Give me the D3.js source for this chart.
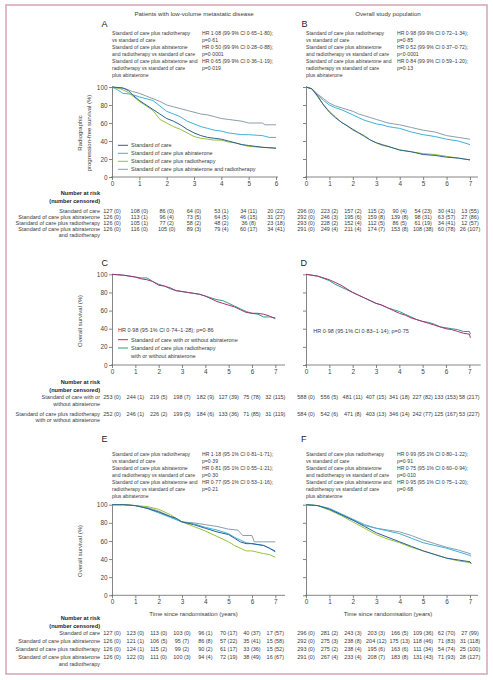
<!DOCTYPE html>
<html>
<head>
<meta charset="utf-8">
<script src="https://cdn.jsdelivr.net/npm/d3@7"></script>
<style>
  body { margin: 0; background: #fff; }
  svg { display: block; }
  text { font-family: "Liberation Sans", Arial, sans-serif; }
</style>
</head>
<body>
<svg id="fig" width="493" height="680"></svg>
<script>
// Kaplan-Meier figure: rPFS (A, B) and OS (C-F), low-volume vs overall population

// ---- data ----
const years6 = [0, 1, 2, 3, 4, 5, 6];
const years7 = [0, 1, 2, 3, 4, 5, 6, 7];
const yTicks = [0, 20, 40, 60, 80, 100];

const armNames = ["Standard of care", "Standard of care plus abiraterone",
  "Standard of care plus radiotherapy", "Standard of care plus abiraterone and radiotherapy"];
const armRowLabels = [["Standard of care"], ["Standard of care plus abiraterone"],
  ["Standard of care plus radiotherapy"], ["Standard of care plus abiraterone", "and radiotherapy"]];
const pairNames = [["Standard of care with or without abiraterone"],
  ["Standard of care plus radiotherapy", "with or without abiraterone"]];
const pairRowLabels = [["Standard of care with or", "without abiraterone"],
  ["Standard of care plus radiotherapy", "with or without abiraterone"]];

const compLabels = [
  ["Standard of care plus radiotherapy", "vs standard of care"],
  ["Standard of care plus abiraterone", "and radiotherapy vs standard of care"],
  ["Standard of care plus abiraterone and", "radiotherapy vs standard of care", "plus abiraterone"]
];
const hrA = ["HR 1·08 (99·9% CI 0·65–1·80);", "HR 0·50 (99·9% CI 0·28–0·88);", "HR 0·65 (99·9% CI 0·36–1·19);"];
const pA = ["p=0·61", "p=0·0001", "p=0·019"];
const hrB = ["HR 0·98 (99·9% CI 0·72–1·34);", "HR 0·52 (99·9% CI 0·37–0·72);", "HR 0·84 (99·9% CI 0·59–1·20);"];
const pB = ["p=0·85", "p<0·0001", "p=0·13"];
const hrE = ["HR 1·18 (95·1% CI 0·81–1·71);", "HR 0·81 (95·1% CI 0·55–1·21);", "HR 0·77 (95·1% CI 0·53–1·16);"];
const pE = ["p=0·39", "p=0·30", "p=0·21"];
const hrF = ["HR 0·99 (95·1% CI 0·80–1·22);", "HR 0·75 (95·1% CI 0·60–0·94);", "HR 0·95 (95·1% CI 0·75–1·20);"];
const pF = ["p=0·91", "p=0·010", "p=0·68"];
const hrC = "HR 0·98 (95·1% CI 0·74–1·28); p=0·86";
const hrD = "HR 0·98 (95·1% CI 0·83–1·14); p=0·75";

// panel A: rPFS, low-volume [year, %]
const aSoc = [[0,100],[0.4,99],[0.6,96],[0.8,90],[1,85],[1.25,80],[1.5,75],[1.75,70],[2,65],[2.25,62],[2.5,58],[2.75,53],[3,49],[3.25,46],[3.5,44],[3.75,43],[4,42],[4.25,40],[4.5,38],[4.75,36],[5,35],[5.5,33],[6,32]];
const aAbi = [[0,100],[0.2,97],[0.4,93],[0.7,92],[1,89],[1.25,87],[1.5,85],[1.75,79],[2,73],[2.25,70],[2.5,67],[2.75,62],[3,59],[3.25,56],[3.5,54],[3.75,52],[4,51],[4.25,49],[4.5,48],[4.75,47],[5,47],[5.5,46],[5.75,44],[6,44]];
const aRt = [[0,100],[0.3,98],[0.6,94],[0.8,89],[1,84],[1.25,79],[1.5,74],[1.6,70],[1.75,64],[2,60],[2.25,56],[2.5,53],[2.75,49],[3,45],[3.25,43],[3.5,42],[3.75,41],[4,41],[4.25,39],[4.5,38],[4.75,36],[5,34],[5.5,33],[6,32]];
const aAbiRt = [[0,100],[0.5,98],[0.75,95],[1,93],[1.25,90],[1.5,87],[1.75,84],[2,80],[2.25,78],[2.5,76],[2.75,74],[3,72],[3.25,70],[3.5,69],[3.75,67],[4,65],[4.25,64],[4.5,63],[4.75,62],[5,60],[5.5,60],[5.6,58],[6,58]];

// panel B: rPFS, overall
const bSoc = [[0,100],[0.25,98],[0.5,90],[0.75,80],[1,72],[1.25,66],[1.5,61],[1.75,57],[2,53],[2.25,49],[2.5,45],[2.75,41],[3,38],[3.25,36],[3.5,34],[3.75,32],[4,30],[4.5,28],[5,25],[5.5,24],[6,22],[6.5,21],[7,19]];
const bAbi = [[0,100],[0.25,98],[0.5,91],[0.75,85],[1,80],[1.25,77],[1.5,75],[1.75,72],[2,69],[2.25,66],[2.5,63],[2.75,61],[3,59],[3.25,58],[3.5,56],[3.75,55],[4,54],[4.5,50],[5,47],[5.5,45],[6,42],[6.5,40],[7,36]];
const bRt = [[0,100],[0.25,98],[0.5,89],[0.75,80],[1,73],[1.25,67],[1.5,61],[1.75,57],[2,52],[2.25,49],[2.5,46],[2.75,41],[3,38],[3.25,35],[3.5,34],[3.75,32],[4,30],[4.5,28],[5,26],[5.5,25],[6,23],[6.5,21],[7,19]];
const bAbiRt = [[0,100],[0.25,98],[0.5,92],[0.75,87],[1,82],[1.25,79],[1.5,77],[1.75,75],[2,73],[2.25,70],[2.5,68],[2.75,66],[3,64],[3.25,62],[3.5,60],[3.75,59],[4,58],[4.5,55],[5,52],[5.5,50],[6,46],[6.5,44],[7,42]];

// panel C: OS, low-volume, pooled
const cSoc = [[0,100],[0.5,99],[1,97],[1.25,95],[1.5,94],[1.75,92],[2,88],[2.25,87],[2.5,85],[2.75,82],[3,81],[3.25,80],[3.5,79],[3.75,78],[4,76],[4.25,73],[4.5,70],[4.75,68],[5,66],[5.25,64],[5.5,61],[5.75,58],[6,57],[6.25,57],[6.5,56],[6.75,54],[7,51]];
const cRt = [[0,100],[0.5,99],[1,97],[1.25,96],[1.5,96],[1.75,92],[2,89],[2.25,87],[2.5,84],[2.75,82],[3,81],[3.25,80],[3.5,79],[3.75,78],[4,76],[4.25,74],[4.5,72],[4.75,71],[5,68],[5.25,65],[5.5,62],[5.75,59],[6,57],[6.25,56],[6.5,53],[6.75,53],[7,52]];

// panel D: OS, overall, pooled
const dSoc = [[0,100],[0.5,98],[1,94],[1.25,91],[1.5,88],[1.75,84],[2,80],[2.25,77],[2.5,74],[2.75,71],[3,68],[3.25,66],[3.5,63],[3.75,60],[4,57],[4.25,55],[4.5,52],[4.75,50],[5,48],[5.25,46],[5.5,44],[5.75,42],[6,40],[6.25,39],[6.5,37],[6.75,35],[7,34],[7.05,30]];
const dRt = [[0,100],[0.5,98],[1,93],[1.25,89],[1.5,86],[1.75,83],[2,80],[2.25,77],[2.5,74],[2.75,71],[3,68],[3.25,66],[3.5,63],[3.75,61],[4,59],[4.25,56],[4.5,53],[4.75,50],[5,48],[5.25,47],[5.5,45],[5.75,42],[6,41],[6.25,40],[6.5,39],[6.75,37],[7,37],[7.05,34]];

// panel E: OS, low-volume, four arms
const eSoc = [[0,100],[0.5,100],[1,99],[1.5,96],[2,92],[2.5,87],[2.75,85],[3,81],[3.5,78],[4,74],[4.5,70],[5,67],[5.25,63],[5.5,59],[5.75,57],[6,57],[6.5,55],[6.75,52],[7,48]];
const eAbi = [[0,100],[0.5,100],[1,99],[1.5,96],[2,91],[2.5,86],[3,81],[3.5,79],[4,75],[4.5,72],[5,68],[5.25,64],[5.5,61],[5.75,58],[6,57],[6.5,55],[6.75,52],[7,49]];
const eRt = [[0,100],[0.5,100],[1,99],[1.5,98],[2,95],[2.5,89],[3,81],[3.5,76],[4,71],[4.5,65],[5,59],[5.25,55],[5.5,52],[5.75,49],[6,49],[6.5,46],[6.75,45],[7,42]];
const eAbiRt = [[0,100],[0.5,100],[1,99],[1.5,97],[2,93],[2.5,87],[3,81],[3.5,80],[4,78],[4.5,76],[5,73],[5.4,72],[5.6,66],[6,66],[6.1,59],[6.5,59],[7,59]];

// panel F: OS, overall, four arms
const fSoc = [[0,100],[0.5,99],[1,95],[1.5,89],[2,83],[2.5,76],[3,69],[3.5,64],[4,59],[4.5,54],[5,49],[5.5,45],[6,41],[6.5,39],[7,37],[7.05,35]];
const fAbi = [[0,100],[0.5,99],[1,96],[1.5,90],[2,84],[2.5,78],[3,74],[3.5,71],[4,68],[4.5,63],[5,58],[5.5,55],[6,52],[6.5,48],[7,44],[7.05,43]];
const fRt = [[0,100],[0.5,99],[1,94],[1.5,88],[2,81],[2.5,74],[3,67],[3.5,62],[4,58],[4.5,53],[5,49],[5.5,45],[6,41],[6.5,38],[7,36],[7.05,35]];
const fAbiRt = [[0,100],[0.5,99],[1,95],[1.5,89],[2,83],[2.5,77],[3,74],[3.5,72],[4,70],[4.5,66],[5,61],[5.5,57],[6,53],[6.5,50],[7,46],[7.05,45]];

// numbers at risk / censored
const riskA = [[127,108,86,64,53,34,20],[126,113,96,73,64,46,31],[126,105,77,58,48,36,23],[126,116,105,89,79,60,34]];
const censA = [[0,0,0,0,1,11,22],[0,1,4,5,5,15,27],[0,1,2,2,2,8,18],[0,0,0,3,4,17,41]];
const riskB = [[296,223,157,115,90,54,30,13],[292,246,195,159,139,98,63,27],[293,228,152,112,86,61,34,12],[291,249,211,174,153,108,60,26]];
const censB = [[0,2,2,2,4,23,41,55],[0,3,6,8,8,31,57,86],[0,2,4,5,5,19,41,57],[0,4,4,7,8,38,78,107]];
const riskC = [[253,244,219,198,182,127,75,32],[252,246,226,199,184,133,71,31]];
const censC = [[0,1,5,7,9,39,78,115],[0,1,2,5,6,36,85,119]];
const riskD = [[588,556,481,407,341,227,133,58],[584,542,471,403,346,242,125,53]];
const censD = [[0,5,11,15,18,82,153,217],[0,6,8,13,14,77,167,227]];
const riskE = [[127,123,113,103,96,70,40,17],[126,121,106,95,86,57,35,15],[126,124,115,99,90,61,33,15],[126,122,111,100,94,72,38,16]];
const censE = [[0,0,0,0,1,17,37,57],[0,1,5,7,8,22,41,58],[0,1,2,2,2,17,36,52],[0,0,0,3,4,19,49,67]];
const riskF = [[296,281,243,203,166,109,62,27],[292,275,238,204,175,118,71,31],[293,275,238,195,163,111,54,25],[291,267,233,208,183,131,71,28]];
const censF = [[0,2,3,3,5,36,70,99],[0,3,8,12,13,46,83,118],[0,2,4,6,6,34,74,100],[0,4,4,7,8,43,93,127]];

// ---- styling ----
const armColors = ["#2d5f97", "#3fb0dc", "#97c23d", "#8d9ea8"];
const pairColors = ["#a8307f", "#2e9c7c"];
const ink = "#3a3a3a";

const svg = d3.select("#fig");

svg.append("rect")
  .attr("x", 6).attr("y", 5).attr("width", 481).attr("height", 669)
  .attr("fill", "none").attr("stroke", "#d9a9bb").attr("stroke-width", 1.6);

function txt(x, y, s, size, opts = {}) {
  return svg.append("text")
    .attr("x", x).attr("y", y + size * 0.35)
    .attr("text-anchor", opts.anchor || "start")
    .attr("font-size", size)
    .attr("font-weight", opts.bold ? "bold" : "normal")
    .attr("fill", opts.fill || ink)
    .text(s);
}

// column titles and panel letters
txt(194, 14, "Patients with low-volume metastatic disease", 6.1, { anchor: "middle" });
txt(388, 14, "Overall study population", 6.1, { anchor: "middle" });
[["A", 101.5, 24], ["B", 301.5, 24], ["C", 101.5, 262.7], ["D", 300.5, 262.7], ["E", 101.5, 439], ["F", 301, 439]]
  .forEach(([l, x, y]) => txt(x, y, l, 9, { fill: "#222" }));

function drawPanel(p) {
  const x = d3.scaleLinear().domain([0, p.maxTick]).range([p.x0, p.xMax]);
  const y = d3.scaleLinear().domain([0, 100]).range([p.bottom, p.top]);
  const g = svg.append("g");

  // axes
  const xa = g.append("g")
    .attr("transform", `translate(0,${p.bottom})`)
    .call(d3.axisBottom(x).tickValues(p.ticks).tickSize(3).tickPadding(1.5).tickFormat(d3.format("d")));
  xa.select(".domain").remove();
  g.append("line")
    .attr("x1", p.x0 - 1).attr("x2", p.xEnd)
    .attr("y1", p.bottom).attr("y2", p.bottom)
    .attr("stroke", "#666").attr("stroke-width", 0.8);

  const ya = g.append("g")
    .attr("transform", `translate(${p.x0},0)`)
    .call(d3.axisLeft(y).tickValues(yTicks).tickSize(3).tickPadding(1.5)
      .tickSizeOuter(0).tickFormat(p.yLabels ? d3.format("d") : ""));

  [xa, ya].forEach(a => {
    a.selectAll("line").attr("stroke", "#666").attr("stroke-width", 0.8);
    a.selectAll(".domain").attr("stroke", "#666").attr("stroke-width", 0.8);
    a.selectAll("text").attr("font-size", 6.4).attr("fill", "#444")
      .attr("font-family", "Liberation Sans, Arial, sans-serif");
  });

  // curves
  const line = d3.line().x(d => x(d[0])).y(d => y(d[1]));
  p.series.forEach(s => {
    g.append("path")
      .attr("d", line(s.data))
      .attr("fill", "none")
      .attr("stroke", s.color)
      .attr("stroke-width", 1)
      .attr("stroke-linejoin", "round");
  });

  // numbers at risk
  p.risk.forEach((row, i) => {
    row.forEach((n, j) => {
      txt(x(p.ticks[j]), p.rowY[i], `${n} (${p.cens[i][j]})`, 5.5, { anchor: "middle" });
    });
  });
  return x;
}

function yTitle(xBase, yc, lines) {
  lines.forEach((s, i) => {
    svg.append("text")
      .attr("transform", `translate(${xBase + i * 9.3},${yc}) rotate(-90)`)
      .attr("text-anchor", "middle")
      .attr("font-size", 6)
      .attr("fill", ink)
      .text(s);
  });
}

function riskHeader(yTop, rowY, labels) {
  txt(100, yTop, "Number at risk", 5.6, { anchor: "end", bold: true, fill: "#222" });
  txt(100, yTop + 7.8, "(number censored)", 5.6, { anchor: "end", bold: true, fill: "#222" });
  labels.forEach((lab, i) => {
    lab.forEach((s, k) => txt(100, rowY[i] + k * 6.5, s, 5.5, { anchor: "end" }));
  });
}

function statsBlock(xl, xr, y0, hr, pv) {
  let li = 0;
  compLabels.forEach((lab, i) => {
    lab.forEach((s, k) => txt(xl, y0 + (li + k) * 7.1, s, 5.1));
    txt(xr, y0 + li * 7.1, hr[i], 5.1);
    txt(xr, y0 + (li + 1) * 7.1, pv[i], 5.1);
    li += lab.length;
  });
}

const armsOrder = [3, 1, 2, 0];
function armSeries(list) {
  return armsOrder.map(k => ({ data: list[k], color: armColors[k] }));
}

// ---- A ----
const rowsTop = [211, 217, 223, 229];
statsBlock(112, 202, 33, hrA, pA);
drawPanel({ x0: 112, xMax: 276, xEnd: 278, maxTick: 6, ticks: years6, top: 87, bottom: 177, yLabels: true,
  series: armSeries([aSoc, aAbi, aRt, aAbiRt]), risk: riskA, cens: censA, rowY: rowsTop });
yTitle(82.1, 133, ["Radiographic", "progression-free survival (%)"]);
armNames.forEach((s, i) => {
  const yy = 145.3 + i * 8;
  svg.append("line").attr("x1", 118).attr("x2", 128).attr("y1", yy).attr("y2", yy)
    .attr("stroke", armColors[i]).attr("stroke-width", 1);
  txt(131, yy, s, 5.5);
});
riskHeader(193, rowsTop, armRowLabels);

// ---- B ----
statsBlock(306, 397, 33, hrB, pB);
drawPanel({ x0: 306, xMax: 470, xEnd: 478, maxTick: 7, ticks: years7, top: 87, bottom: 177, yLabels: false,
  series: armSeries([bSoc, bAbi, bRt, bAbiRt]), risk: riskB, cens: censB, rowY: rowsTop });

// ---- C ----
const rowsMid = [397.5, 414];
drawPanel({ x0: 112, xMax: 275.3, xEnd: 285, maxTick: 7, ticks: years7, top: 274.3, bottom: 365, yLabels: true,
  series: [{ data: cRt, color: pairColors[1] }, { data: cSoc, color: pairColors[0] }],
  risk: riskC, cens: censC, rowY: rowsMid });
yTitle(82.2, 321, ["Overall survival (%)"]);
txt(118, 330.3, hrC, 5.5);
pairNames.forEach((lab, i) => {
  const yy = 339.7 + i * 8.3;
  svg.append("line").attr("x1", 118).attr("x2", 128).attr("y1", yy).attr("y2", yy)
    .attr("stroke", pairColors[i]).attr("stroke-width", 1);
  lab.forEach((s, k) => txt(131, yy + k * 8, s, 5.5));
});
riskHeader(382, rowsMid, pairRowLabels);

// ---- D ----
drawPanel({ x0: 306, xMax: 469.3, xEnd: 480.7, maxTick: 7, ticks: years7, top: 274.3, bottom: 365, yLabels: false,
  series: [{ data: dRt, color: pairColors[1] }, { data: dSoc, color: pairColors[0] }],
  risk: riskD, cens: censD, rowY: rowsMid });
txt(313.3, 330.7, hrD, 5.5);

// ---- E ----
const rowsLow = [633.3, 641.3, 649.2, 657.1];
statsBlock(112, 202, 454, hrE, pE);
drawPanel({ x0: 112, xMax: 275.3, xEnd: 285, maxTick: 7, ticks: years7, top: 504.7, bottom: 595.3, yLabels: true,
  series: armSeries([eSoc, eAbi, eRt, eAbiRt]), risk: riskE, cens: censE, rowY: rowsLow });
yTitle(82.4, 551, ["Overall survival (%)"]);
txt(193.6, 614, "Time since randomisation (years)", 6, { anchor: "middle" });
riskHeader(618.3, rowsLow, armRowLabels);

// ---- F ----
statsBlock(306, 397, 454, hrF, pF);
drawPanel({ x0: 306, xMax: 470, xEnd: 478, maxTick: 7, ticks: years7, top: 504.7, bottom: 595.3, yLabels: false,
  series: armSeries([fSoc, fAbi, fRt, fAbiRt]), risk: riskF, cens: censF, rowY: rowsLow });
txt(388, 614, "Time since randomisation (years)", 6, { anchor: "middle" });
</script>
</body>
</html>
